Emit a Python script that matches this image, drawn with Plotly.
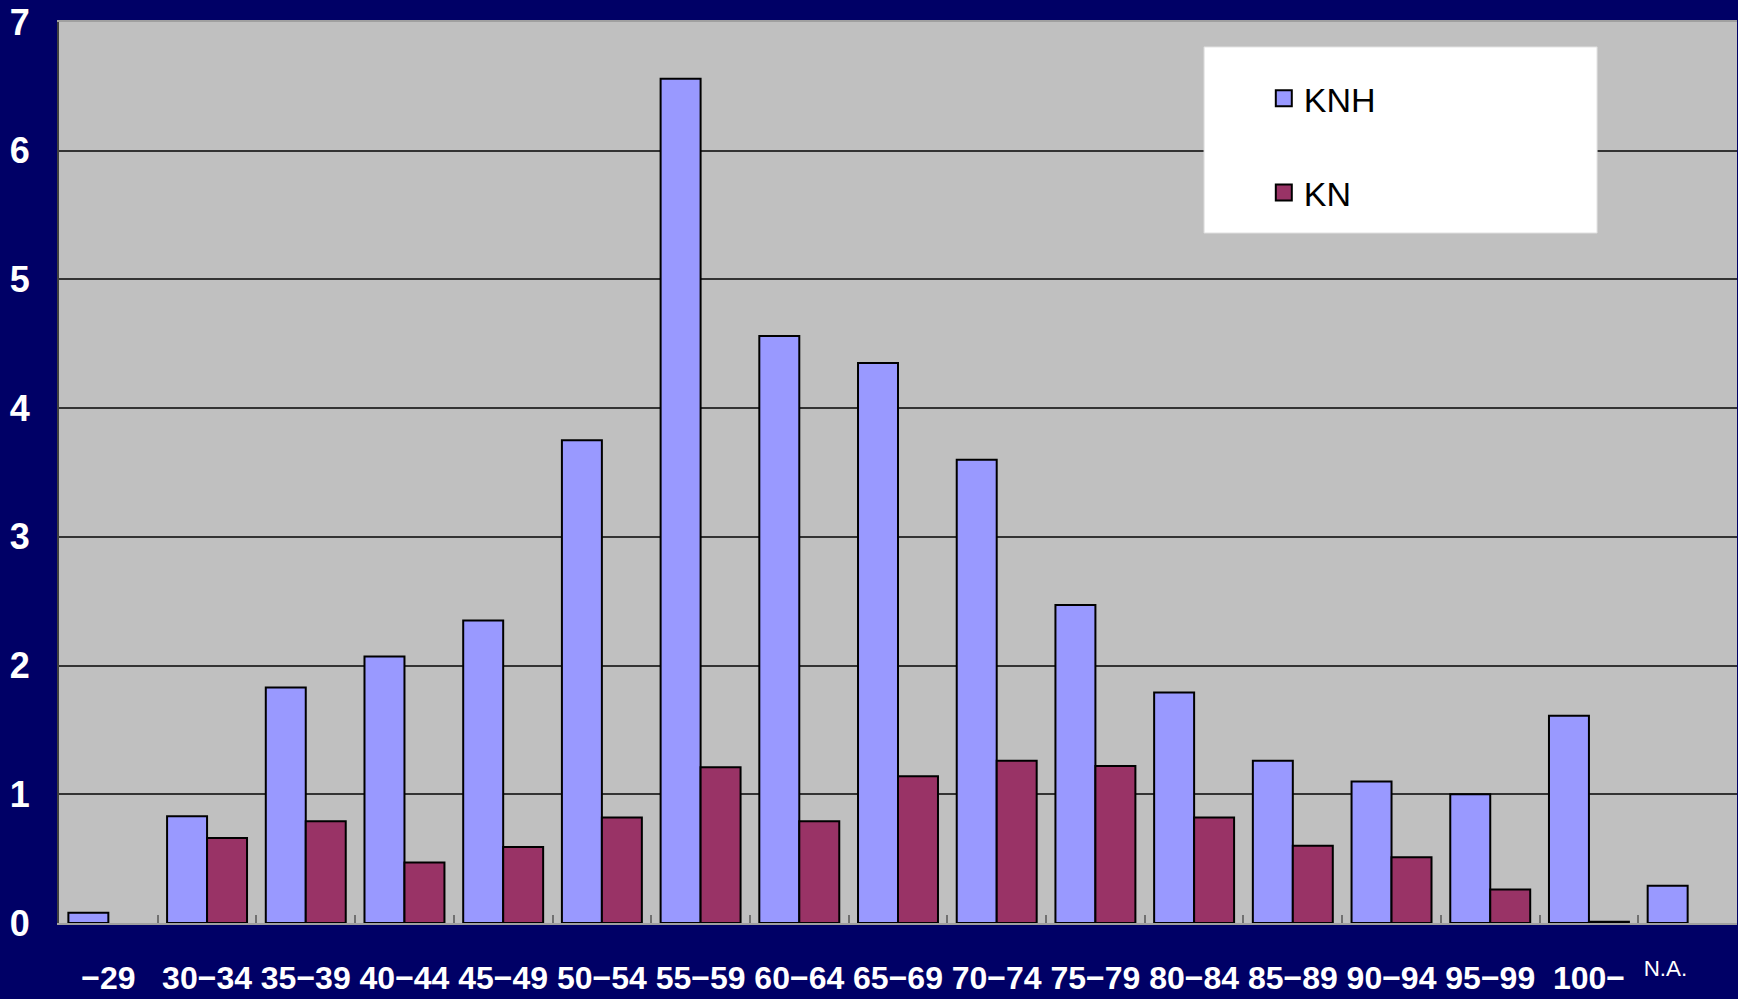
import plotly.graph_objects as go

# Age bands on the horizontal axis
categories = ["-29", "30-34", "35-39", "40-44", "45-49", "50-54", "55-59", "60-64",
              "65-69", "70-74", "75-79", "80-84", "85-89", "90-94", "95-99", "100-", "N.A."]

# Series values
knh = [0.08, 0.83, 1.83, 2.07, 2.35, 3.75, 6.56, 4.56, 4.35, 3.60, 2.47, 1.79,
       1.26, 1.10, 1.00, 1.61, 0.29]
kn = [None, 0.66, 0.79, 0.47, 0.59, 0.82, 1.21, 0.79, 1.14, 1.26, 1.22, 0.82,
      0.60, 0.51, 0.26, 0.01, None]

series_names = ["KNH", "KN"]
y_ticks = [0, 1, 2, 3, 4, 5, 6, 7]

NAVY = "#000066"
PLOT_BG = "#C0C0C0"
COL_KNH = "#9999FF"
COL_KN = "#993366"
FONT = "Liberation Sans, Arial, sans-serif"


def tick_label(cat):
    if cat == "N.A.":
        return "<sup><span style='font-weight:normal'>N.A.</span></sup>" + "\u00a0" * 5
    return cat.replace("-", "\u2212")


fig = go.Figure()

for name, vals, col in [(series_names[0], knh, COL_KNH), (series_names[1], kn, COL_KN)]:
    fig.add_trace(go.Bar(
        x=categories, y=vals, name=name, legendgroup=name, showlegend=False,
        marker=dict(color=col, line=dict(color="#000000", width=2)),
    ))
    # legend swatch for the series
    fig.add_trace(go.Scatter(
        x=[None], y=[None], mode="markers", name=name, legendgroup=name,
        marker=dict(symbol="square", size=19, color=col,
                    line=dict(color="#000000", width=2)),
    ))

fig.update_layout(
    width=1738, height=999,
    margin=dict(l=59, r=1, t=22, b=76),
    paper_bgcolor=NAVY,
    plot_bgcolor=PLOT_BG,
    barmode="group",
    bargap=0.19,
    bargroupgap=0,
    showlegend=True,
    legend=dict(
        x=0.718, y=0.947, xanchor="left", yanchor="top",
        bgcolor="rgba(0,0,0,0)", borderwidth=0,
        font=dict(family=FONT, size=34, color="#000000"),
        traceorder="grouped", tracegroupgap=47,
    ),
    shapes=[dict(
        type="rect", xref="paper", yref="paper",
        x0=0.6824, x1=0.9166, y0=0.7658, y1=0.9723,
        fillcolor="#FFFFFF", line=dict(color="#E0E0E0", width=1), layer="above",
    )],
    xaxis=dict(
        type="category",
        categoryorder="array", categoryarray=categories,
        tickmode="array", tickvals=categories,
        ticktext=[tick_label(c) for c in categories],
        tickangle=0,
        automargin=False,
        tickson="boundaries",
        ticks="inside", ticklen=8, tickwidth=2, tickcolor="#707070",
        tickfont=dict(family=FONT, size=32, color="#FFFFFF", weight="bold"),
        ticklabelstandoff=26,
        showgrid=False,
        showline=True, linecolor="#A0A0A0", linewidth=2, mirror=True,
        range=[-0.5, len(categories) - 0.5],
        zeroline=False,
    ),
    yaxis=dict(
        range=[0, 7],
        automargin=False,
        tickmode="array", tickvals=y_ticks,
        tickfont=dict(family=FONT, size=36, color="#FFFFFF", weight="bold"),
        ticklabelstandoff=20,
        showgrid=True, gridcolor="#333333", gridwidth=2,
        showline=True, linecolor="#404040", linewidth=2,
        zeroline=False,
        ticks="",
    ),
)

fig.write_html("out.html")
